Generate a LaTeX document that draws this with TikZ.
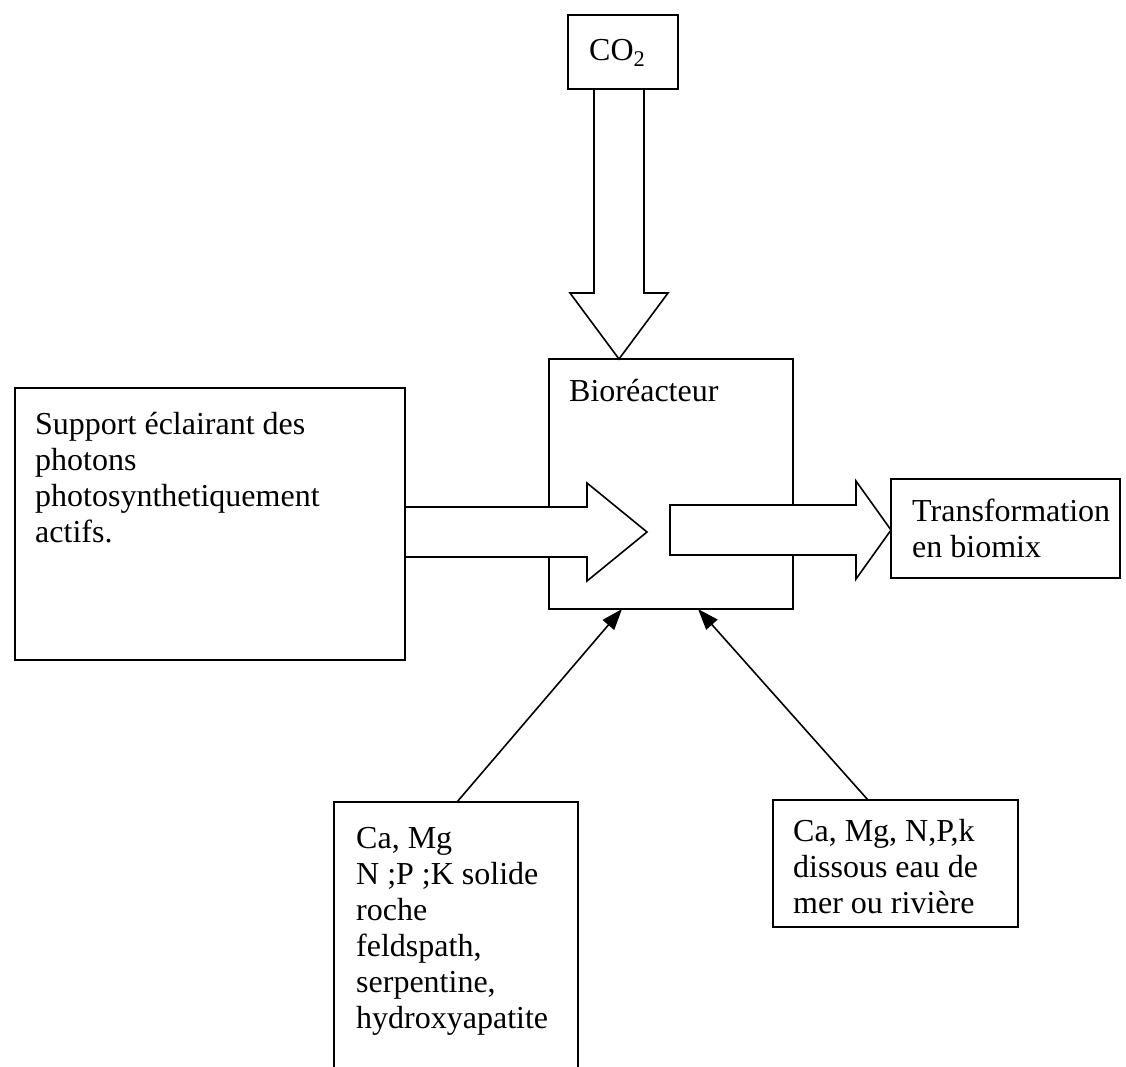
\documentclass[tikz,border=0pt]{standalone}
\usepackage{fontspec}
\setmainfont{Liberation Serif}
\usetikzlibrary{arrows.meta,calc}
\newcommand{\blockarrow}[5]{%
  \path (#2) coordinate (tipc) ($(#2)!#5!(#1)$) coordinate (neck);
  \draw[blk] ($(#1)!#3!90:(#2)$) -- ($(neck)!#3!90:(tipc)$) -- ($(neck)!#4!90:(tipc)$)
    -- (tipc) -- ($(neck)!#4!-90:(tipc)$) -- ($(neck)!#3!-90:(tipc)$)
    -- ($(#1)!#3!-90:(#2)$) -- cycle;}
\begin{document}
\begin{tikzpicture}[x=1pt,y=-1pt,
  box/.style={draw, line width=1.6pt, inner sep=0pt, outer sep=0pt, anchor=north west},
  txt/.style={font=\fontsize{32}{36}\selectfont, inner sep=0pt, align=left, anchor=base west},
  blk/.style={draw, fill=white, line width=1.6pt, line join=miter},
  thinarrow/.style={line width=1.6pt, -{Triangle[length=21pt,width=15pt]}}]
\useasboundingbox (0,0) rectangle (1126,1066);
\clip (0,0) rectangle (1126,1066);
\fill[white] (0,0) rectangle (1126,1066);
% boxes
\node[box, minimum width=110pt, minimum height=74pt] (co2) at (568,15) {};
\node[box, minimum width=244pt, minimum height=250pt] (bio) at (549,359) {};
\node[box, minimum width=390pt, minimum height=272pt] (sup) at (15,388) {};
\node[box, minimum width=229pt, minimum height=99pt] (trans) at (891,479) {};
\node[box, minimum width=244pt, minimum height=320pt] (sol) at (334,802) {};
\node[box, minimum width=245pt, minimum height=127pt] (dis) at (773,800) {};
% texts (anchored at the baseline of their last line)
\node[txt] (co2t) at (589,60) {CO\textsubscript{2}};
\node[txt] (biot) at (569,401) {Bioréacteur};
\node[txt] (supt) at (35,542) {Support éclairant des\\photons\\photosynthetiquement\\actifs.};
\node[txt] (transt) at (912,557) {Transformation\\en biomix};
\node[txt] (solt) at (356,1028) {Ca, Mg\\N ;P ;K solide\\roche\\feldspath,\\serpentine,\\hydroxyapatite};
\node[txt] (dist) at (793,913) {Ca, Mg, N,P,k\\dissous eau de\\mer ou rivière};
% connector end points on the node borders
\coordinate (a1s) at (619,89);
\coordinate (a1t) at (619,359);
\coordinate (a2s) at (405,532);
\coordinate (a2t) at (647,532);
\coordinate (a3s) at (670,530);
\coordinate (a3t) at (891,530);
\coordinate (b1s) at (457,802);
\coordinate (b1t) at (622,609);
\coordinate (b2s) at (868,800);
\coordinate (b2t) at (698,609);
% hollow arrows
\blockarrow{a1s}{a1t}{25pt}{49pt}{66pt}
\blockarrow{a2s}{a2t}{25pt}{49pt}{60pt}
\blockarrow{a3s}{a3t}{25pt}{49pt}{35pt}
% thin arrows
\draw[thinarrow] (b1s) -- (b1t);
\draw[thinarrow] (b2s) -- (b2t);
\end{tikzpicture}
\end{document}
